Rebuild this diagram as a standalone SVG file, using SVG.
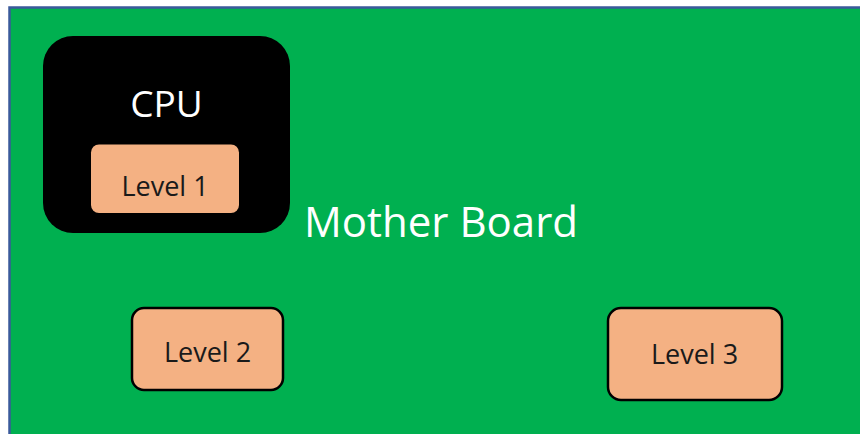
<svg xmlns="http://www.w3.org/2000/svg" width="860" height="434" viewBox="0 0 860 434">
<style>
.cache{fill:#F4B183;stroke:#000;stroke-width:2.5}
.t{font-family:"Open Sans","Liberation Sans",sans-serif;text-anchor:middle}
.dark{fill:#1a1a1a;font-size:27px}
.white{fill:#fff}
</style>
<rect x="0" y="0" width="860" height="434" fill="#fff"/>
<g id="motherboard">
<rect x="9.5" y="7.5" width="860" height="440" fill="#00B050" stroke="#3A5A9B" stroke-width="2.5"/>
<text class="t white" x="441" y="237" font-size="42">Mother Board</text>
</g>
<g id="cpu">
<rect x="43" y="36" width="247" height="197" rx="30" fill="#000"/>
<text class="t white" x="166.5" y="116.5" font-size="37">CPU</text>
</g>
<g id="level1">
<rect x="91" y="144.5" width="148" height="68.5" rx="8" fill="#F4B183"/>
<text class="t dark" x="165" y="196">Level 1</text>
</g>
<g id="level2">
<rect class="cache" x="132" y="308" width="151" height="82" rx="12"/>
<text class="t dark" x="207.5" y="362">Level 2</text>
</g>
<g id="level3">
<rect class="cache" x="608" y="308" width="174" height="92" rx="13"/>
<text class="t dark" x="694.5" y="364">Level 3</text>
</g>
<g id="connectors"></g>
</svg>
